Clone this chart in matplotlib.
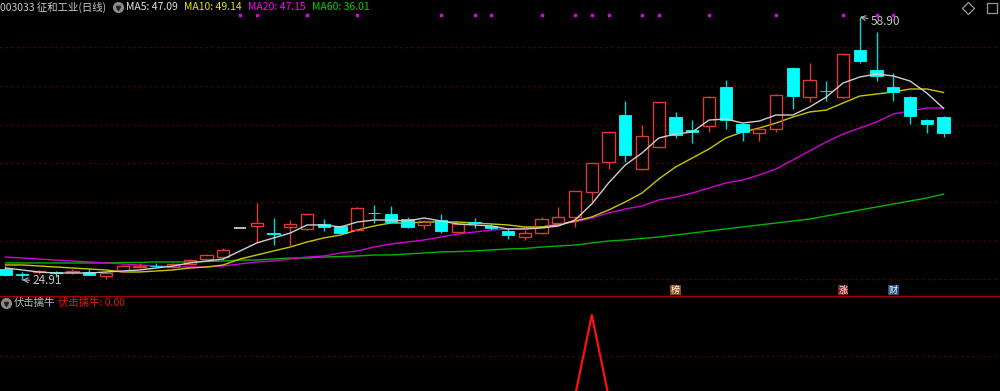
import matplotlib
matplotlib.use("Agg")
import matplotlib.pyplot as plt
from matplotlib.patches import Rectangle
from matplotlib.lines import Line2D

plt.rcParams["font.family"] = ["Noto Sans CJK SC", "DejaVu Sans"]

# daily bars, 003033 征和工业
opens = [26.33, 25.62, 25.88, 25.94, 25.88, 25.94, 25.43, 26.01, 26.65, 26.78,
         26.59, 26.98, 27.62, 27.88, 31.67, 31.89, 30.92, 31.76, 31.50, 32.15,
         31.89, 31.37, 33.63, 33.44, 32.79, 32.02, 32.66, 31.11, 32.34, 31.89,
         31.24, 30.47, 30.98, 32.27, 33.05, 36.28, 40.10, 46.23, 39.25, 42.09,
         45.97, 44.29, 44.81, 49.85, 45.07, 43.90, 44.42, 52.30, 48.55, 49.39,
         48.55, 54.63, 52.04, 49.85, 48.55, 45.58, 45.97]
highs = [26.72, 25.94, 26.20, 26.07, 26.33, 26.46, 25.94, 26.85, 27.11, 27.11,
         27.04, 27.62, 28.27, 29.04, 31.67, 34.84, 32.92, 32.66, 33.57, 32.79,
         32.02, 34.34, 34.60, 34.47, 33.05, 32.66, 33.44, 32.27, 32.92, 32.27,
         31.50, 31.37, 33.05, 34.34, 36.36, 40.00, 44.00, 48.04, 44.94, 47.86,
         46.62, 45.58, 48.68, 50.75, 45.19, 44.55, 48.94, 52.43, 52.95, 50.62,
         54.24, 58.90, 56.95, 51.66, 48.68, 45.71, 46.10]
lows = [25.43, 24.91, 25.69, 25.30, 25.69, 25.49, 25.04, 25.94, 26.46, 26.59,
        26.46, 26.85, 27.49, 27.49, 31.67, 29.82, 29.43, 29.17, 31.37, 31.24,
        30.85, 31.24, 32.27, 32.27, 31.63, 31.50, 30.98, 30.98, 31.63, 31.37,
        30.21, 30.08, 30.85, 32.15, 31.76, 34.99, 39.25, 40.16, 39.12, 41.96,
        43.26, 42.61, 44.03, 44.42, 42.87, 42.87, 44.03, 47.00, 47.91, 48.04,
        48.42, 52.95, 50.62, 48.04, 45.07, 43.90, 43.39]
closes = [25.56, 25.49, 26.01, 25.81, 26.01, 25.56, 25.81, 26.78, 26.72, 26.72,
          26.98, 27.49, 28.14, 28.79, 31.67, 32.27, 30.85, 32.15, 33.44, 31.76,
          30.98, 34.21, 33.57, 32.40, 31.76, 32.53, 31.24, 32.15, 32.27, 31.63,
          30.72, 30.98, 32.79, 33.05, 36.36, 40.00, 44.00, 41.06, 43.51, 47.86,
          43.64, 44.03, 48.55, 45.58, 44.03, 44.42, 48.81, 48.68, 50.75, 49.33,
          54.11, 53.20, 51.27, 49.20, 46.10, 45.07, 43.90]

ma5 = [26.46, 26.20, 25.94, 25.81, 25.81, 25.81, 25.94, 26.07, 26.20, 26.46,
       26.72, 27.11, 27.36, 27.62, 28.66, 29.69, 30.34, 30.98, 32.02, 32.02,
       31.76, 32.40, 32.66, 32.66, 32.53, 32.92, 32.53, 32.15, 32.02, 31.89,
       31.50, 31.50, 31.63, 31.89, 32.66, 34.73, 37.44, 39.77, 41.32, 43.26,
       43.77, 44.03, 45.58, 45.71, 45.19, 45.45, 46.23, 46.23, 47.26, 48.55,
       50.36, 51.14, 51.53, 51.27, 50.62, 49.07, 47.09]
ma10 = [26.85, 26.85, 26.72, 26.59, 26.46, 26.33, 26.20, 25.94, 25.94, 26.07,
        26.20, 26.46, 26.59, 26.85, 27.62, 28.14, 28.66, 29.17, 29.82, 30.34,
        30.72, 31.37, 31.89, 32.27, 32.27, 32.40, 32.40, 32.40, 32.27, 32.15,
        32.02, 31.76, 31.76, 32.02, 32.53, 33.05, 33.95, 34.99, 36.15, 37.96,
        39.51, 40.67, 41.84, 43.26, 44.03, 44.55, 45.19, 45.97, 46.62, 46.87,
        47.78, 48.68, 48.94, 49.20, 49.59, 49.59, 49.14]
ma20 = [27.88, 27.75, 27.62, 27.49, 27.36, 27.24, 27.11, 26.98, 26.85, 26.72,
        26.59, 26.59, 26.59, 26.72, 26.98, 27.24, 27.36, 27.62, 27.88, 28.01,
        28.40, 28.66, 29.17, 29.56, 29.82, 30.08, 30.47, 30.85, 31.11, 31.37,
        31.50, 31.63, 31.76, 32.15, 32.40, 32.92, 33.57, 34.08, 34.47, 35.25,
        35.63, 36.15, 36.80, 37.44, 37.83, 38.48, 39.25, 40.41, 41.58, 42.74,
        43.77, 44.55, 45.32, 46.36, 46.75, 47.13, 47.15]
ma60 = [27.11, 27.11, 27.11, 27.11, 27.11, 27.11, 27.11, 27.17, 27.17, 27.24,
        27.24, 27.24, 27.30, 27.36, 27.49, 27.49, 27.62, 27.75, 27.75, 27.88,
        27.95, 28.01, 28.14, 28.14, 28.27, 28.40, 28.53, 28.59, 28.66, 28.79,
        28.92, 28.98, 29.17, 29.30, 29.43, 29.69, 29.95, 30.08, 30.27, 30.47,
        30.72, 30.98, 31.24, 31.50, 31.76, 32.02, 32.27, 32.53, 32.79, 33.18,
        33.57, 33.95, 34.34, 34.73, 35.12, 35.50, 36.01]

# 伏击擒牛 indicator
signal = [0] * 35 + [1] + [0] * 21

# magenta flags along the top, and the event tags at the bottom
flag_idx = [14, 15, 18, 21, 26, 28, 29, 32, 34, 35, 36, 38, 39, 42, 46, 50, 52, 53]
tags = ["榜", "涨", "财"]
tag_idx = [40, 50, 53]
tag_bg = ["#8a4a10", "#8c1c1c", "#1e4f80"]

RED = "#e03838"
CYAN = "#00ffff"
GRIDC = "#7a0000"
H = 391.0

fig = plt.figure(figsize=(10, 3.91), dpi=100, facecolor="black")
ax = fig.add_axes([0, 95 / H, 1, 296 / H], facecolor="black")
ax2 = fig.add_axes([0, 0, 1, 95 / H], facecolor="black")
for a in (ax, ax2):
    a.set_xlim(-0.328, 59.37)
    a.set_xticks([])
    a.set_yticks([])
    for s in a.spines.values():
        s.set_visible(False)
ax.set_ylim(22.84, 61.09)
ax2.set_ylim(0.062, 1.235)

for lv in [25, 30, 35, 40, 45, 50, 55]:
    ax.axhline(lv, color=GRIDC, lw=1, ls=(0, (1, 3)), zorder=0)
ax2.axhline(0.5, color=GRIDC, lw=1, ls=(0, (1, 3)), zorder=0)

w = 0.74
for i, (o, h, l, c) in enumerate(zip(opens, highs, lows, closes)):
    if c > o:
        ax.vlines(i, c, h, color=RED, lw=1, zorder=3)
        ax.vlines(i, l, o, color=RED, lw=1, zorder=3)
        ax.add_patch(Rectangle((i - w / 2, o), w, c - o, fill=False,
                               edgecolor=RED, lw=1, zorder=3))
    elif c < o:
        ax.vlines(i, l, h, color="#00d8d8", lw=1, zorder=3)
        ax.add_patch(Rectangle((i - w / 2, c), w, o - c, facecolor=CYAN,
                               edgecolor=CYAN, lw=0.6, zorder=3))
    else:
        ax.hlines(c, i - w / 2, i + w / 2, color="#d8d8d8", lw=1.2, zorder=3)
        ax.vlines(i, l, h, color="#d8d8d8", lw=1, zorder=3)

x = list(range(len(closes)))
ax.plot(x, ma60, color="#00b400", lw=1, zorder=2)
ax.plot(x, ma20, color="#d000d0", lw=1, zorder=2)
ax.plot(x, ma10, color="#c8c800", lw=1, zorder=2)
ax.plot(x, ma5, color="#cfcfcf", lw=1, zorder=4)

tr = ax.get_xaxis_transform()
ax.scatter(flag_idx, [1 - 15 / 296] * len(flag_idx), marker="s", s=3,
           color="#e000e0", transform=tr, zorder=5)
for t, ix, bg in zip(tags, tag_idx, tag_bg):
    ax.text(ix, 6 / 296, t, transform=tr, ha="center", va="center",
            fontsize=6.5, color="white",
            bbox=dict(boxstyle="square,pad=0.08", facecolor=bg, edgecolor="none"))

# max / min labels
imax = highs.index(max(highs))
imin = lows.index(min(lows))
ax.annotate(f"{highs[imax]:.2f}", xy=(imax, highs[imax]), xytext=(11, -5),
            textcoords="offset pixels", color="#c8c8c8", fontsize=8.5,
            va="center", ha="left",
            arrowprops=dict(arrowstyle="->", color="#b0b0b0", lw=0.8,
                            shrinkA=0, shrinkB=0))
ax.annotate(f"{lows[imin]:.2f}", xy=(imin, lows[imin]), xytext=(10, -1),
            textcoords="offset pixels", color="#c8c8c8", fontsize=8.5,
            va="center", ha="left",
            arrowprops=dict(arrowstyle="->", color="#b0b0b0", lw=0.8,
                            shrinkA=0, shrinkB=0))

ax2.plot(x, signal, color="#ff1010", lw=1.6)

# header overlay in pixel coordinates
ov = fig.add_axes([0, 0, 1, 1], facecolor="none")
ov.set_xlim(0, 1000)
ov.set_ylim(H, 0)
ov.axis("off")
ov.add_line(Line2D([0, 1000], [296, 296], color="#a00000", lw=1))

ov.text(0, 7, "003033 征和工业(日线)", color="#c8c8c8", fontsize=7.5, va="center")
ov.plot(118, 7, "o", ms=7, color="#8a8a8a")
ov.plot(118, 7.5, marker="v", ms=3, color="#222222")
ov.text(126, 7, f"MA5: {ma5[-1]:.2f}", color="#e0e0e0", fontsize=7.5, va="center")
ov.text(184, 7, f"MA10: {ma10[-1]:.2f}", color="#e6e600", fontsize=7.5, va="center")
ov.text(248, 7, f"MA20: {ma20[-1]:.2f}", color="#ff00ff", fontsize=7.5, va="center")
ov.text(312, 7, f"MA60: {ma60[-1]:.2f}", color="#00d200", fontsize=7.5, va="center")
ov.plot(968, 8, "D", ms=6, mfc="none", mec="#9a9a9a", mew=0.9)
ov.plot(992, 8, "s", ms=7, mfc="none", mec="#9a9a9a", mew=0.9)

ov.plot(6, 303, "o", ms=7, color="#8a8a8a")
ov.plot(6, 303.5, marker="v", ms=3, color="#222222")
ov.text(14, 303, "伏击擒牛", color="#b8b8b8", fontsize=7.5, va="center")
ov.text(58, 303, f"伏击擒牛: {signal[-1]:.2f}", color="#ee1010", fontsize=7.5, va="center")

fig.savefig("out.png", dpi=100, facecolor="black")
